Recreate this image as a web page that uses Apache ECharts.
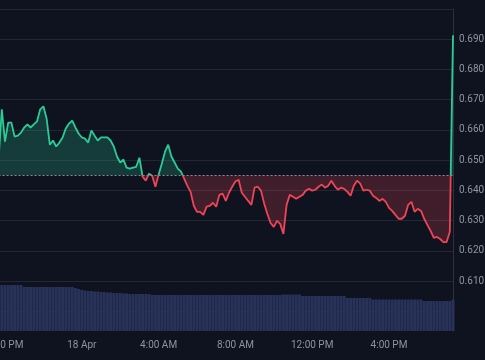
<!DOCTYPE html>
<html><head><meta charset="utf-8">
<script src="https://cdn.jsdelivr.net/npm/echarts@6/dist/echarts.min.js"></script>
<style>html,body{margin:0;padding:0;background:#0f1320;overflow:hidden}#c{width:485px;height:360px;}</style>
</head><body><div id="c"></div>
<script>
// ---- data ----
const startTime = '19:40';        // first sample (17 Apr)
const stepMinutes = 10;
const tickTimes  = ['20:00', '00:00', '04:00', '08:00', '12:00', '16:00'];
const tickLabels = ['8:00 PM', '18 Apr', '4:00 AM', '8:00 AM', '12:00 PM', '4:00 PM'];
const baseline = 0.645;
const prices = [
  0.6502,0.6668,0.6561,0.6624,0.6624,0.6578,0.6581,0.6591,0.6608,0.6618,
  0.6608,0.6618,0.6628,0.6668,0.6678,0.6638,0.6551,0.6565,0.6545,0.6558,
  0.6575,0.6605,0.6621,0.6631,0.6608,0.6588,0.6575,0.6571,0.6558,0.6598,
  0.6581,0.6565,0.6575,0.6575,0.6575,0.6565,0.6545,0.6512,0.6492,0.6502,
  0.6475,0.6472,0.6475,0.6478,0.6508,0.6445,0.6432,0.6455,0.6448,0.6412,
  0.6452,0.6488,0.6528,0.6551,0.6512,0.6492,0.6472,0.6462,0.6439,0.6415,
  0.6395,0.6349,0.6329,0.6329,0.6319,0.6346,0.6349,0.6359,0.6346,0.6385,
  0.6389,0.6365,0.6392,0.6412,0.6429,0.6435,0.6392,0.6379,0.6365,0.6352,
  0.6409,0.6412,0.6399,0.6356,0.6322,0.6292,0.6279,0.6299,0.6289,0.6256,
  0.6352,0.6385,0.6379,0.6372,0.6379,0.6385,0.6399,0.6405,0.6399,0.6402,
  0.6412,0.6419,0.6409,0.6415,0.6432,0.6415,0.6402,0.6409,0.6405,0.6395,
  0.6382,0.6415,0.6432,0.6422,0.6399,0.6402,0.6399,0.6382,0.6375,0.6365,
  0.6372,0.6362,0.6342,0.6332,0.6319,0.6306,0.6306,0.6316,0.6352,0.6362,
  0.6329,0.6339,0.6332,0.6306,0.6286,0.6266,0.6243,0.6246,0.6239,0.6229,
  0.6229,0.6263,0.6913
];
const volumes = [
  4.6,4.6,4.6,4.6,4.6,4.6,4.6,4.6,
  4.4,4.4,4.4,4.4,4.4,4.4,4.4,4.4,4.4,4.4,4.4,4.4,4.4,4.4,4.4,4.4,
  4.3,4.2,
  4.1,4.05,4.0,4.0,3.95,3.95,
  3.9,3.9,3.85,3.85,3.8,3.8,3.8,
  3.75,3.75,
  3.7,3.7,3.7,3.7,3.7,3.7,3.7,
  3.6,3.6,3.6,3.6,3.6,3.6,3.6,3.6,3.6,3.6,3.6,3.6,3.6,3.6,3.6,3.6,3.6,3.6,3.6,3.6,
  3.6,3.6,3.6,3.6,3.6,3.6,3.6,3.6,3.6,3.6,3.6,3.6,3.6,3.6,3.6,3.6,3.6,3.6,3.6,3.6,3.6,
  3.65,3.65,3.65,3.65,3.65,3.65,
  3.5,3.5,3.5,3.5,3.5,3.5,3.5,3.5,3.5,3.5,3.5,3.5,3.5,3.5,
  3.3,3.3,3.3,3.3,3.3,3.3,3.3,3.3,
  3.15,3.15,3.15,3.15,3.15,3.15,3.15,3.15,3.15,3.15,3.15,3.15,3.15,3.15,3.15,3.15,
  3.0,3.0,3.0,3.0,3.0,3.0,3.0,3.0,3.0,
  3.15
];

// ---- categories (time of each sample) ----
const categories = [];
{
  let [h, m] = startTime.split(':').map(Number);
  let t = h * 60 + m;
  for (let i = 0; i < prices.length; i++) {
    const tt = t % 1440;
    categories.push(String(Math.floor(tt / 60)).padStart(2, '0') + ':' + String(tt % 60).padStart(2, '0'));
    t += stepMinutes;
  }
}

const labelColor = '#8d94a1';
const gridLine = '#222733';
const axisLineColor = '#2c313c';
const green = '#2acb94';
const red = '#f04454';

const chart = echarts.init(document.getElementById('c'), null, { renderer: 'canvas' });
chart.setOption({
  backgroundColor: '#0f1320',
  animation: false,
  grid: [
    { left: -1.4, right: 32, top: 9, bottom: 48.75, outerBoundsMode: 'none', containLabel: false },
    { left: -1.4, right: 32, top: 281, bottom: 29, outerBoundsMode: 'none', containLabel: false }
  ],
  xAxis: [
    {
      type: 'category', gridIndex: 0, data: categories, boundaryGap: false,
      axisLine: { show: false }, axisTick: { show: false }, axisLabel: { show: false },
      splitLine: { show: false }
    },
    {
      type: 'category', gridIndex: 1, data: categories, boundaryGap: false,
      axisLine: { show: false }, axisTick: { show: false },
      splitLine: { show: false },
      axisLabel: {
        color: labelColor, fontSize: 10, fontFamily: 'Roboto, sans-serif', margin: 9,
        interval: (idx, val) => tickTimes.indexOf(val) >= 0,
        formatter: (val) => { const i = tickTimes.indexOf(val); return i >= 0 ? tickLabels[i] : ''; }
      }
    }
  ],
  yAxis: [
    {
      type: 'value', gridIndex: 0, position: 'right', min: 0.6, max: 0.7, interval: 0.01,
      axisLine: { show: true, lineStyle: { color: axisLineColor } },
      axisTick: { show: false },
      splitLine: { show: true, lineStyle: { color: gridLine, width: 1 } },
      axisLabel: {
        color: labelColor, fontSize: 10, fontFamily: 'Roboto, sans-serif', margin: 6,
        formatter: (v) => (v > 0.6049 && v < 0.6951) ? v.toFixed(3) : ''
      }
    },
    {
      type: 'value', gridIndex: 1, position: 'right', min: 0, max: 5,
      axisLine: { show: true, lineStyle: { color: axisLineColor } },
      axisTick: { show: false }, axisLabel: { show: false }, splitLine: { show: false }
    }
  ],
  visualMap: {
    show: false, seriesIndex: 0, dimension: 1,
    pieces: [
      { gt: 0, lte: baseline, color: red },
      { gt: baseline, lte: 1, color: green }
    ]
  },
  series: [
    {
      type: 'line', xAxisIndex: 0, yAxisIndex: 0, data: prices,
      showSymbol: false, symbol: 'none', z: 3,
      lineStyle: { width: 1.8 },
      areaStyle: { origin: baseline, opacity: 0.22 },
      markLine: {
        silent: true, symbol: 'none', animation: false, precision: 4,
        label: { show: false },
        lineStyle: { type: [2, 2], color: '#858b96', width: 1 },
        data: [{ yAxis: baseline }]
      }
    },
    {
      type: 'bar', xAxisIndex: 1, yAxisIndex: 1, data: volumes,
      barCategoryGap: '8%', itemStyle: { color: '#29335a' }, z: 2
    }
  ]
});
</script>
</body></html>
